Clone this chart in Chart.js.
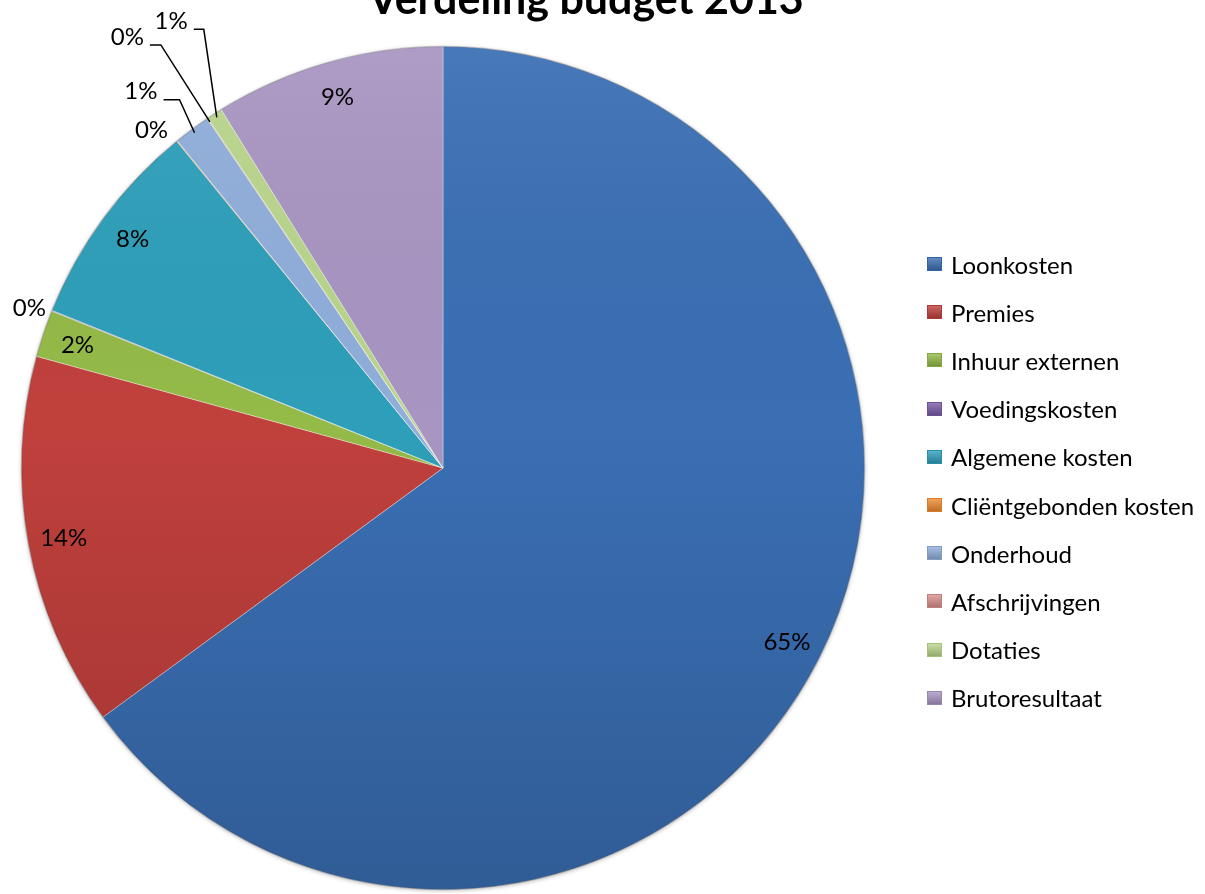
<!DOCTYPE html>
<html>
<head>
<meta charset="utf-8">
<script src="https://cdn.jsdelivr.net/npm/chart.js@4.4.0/dist/chart.umd.min.js"></script>
<style>
  body { margin: 0; background: #fff; overflow: hidden; }
  #wrap { position: relative; width: 1205px; height: 894px; }
  #legend { position: absolute; left: 927px; top: 240px; font-family: Lato, sans-serif; font-size: 24px; color: #000; }
  .item { height: 48.2px; display: flex; align-items: center; white-space: nowrap; }
  .sw { width: 15px; height: 14px; margin-right: 9px; box-sizing: border-box; }
</style>
</head>
<body>
<div id="wrap">
  <canvas id="pie" width="1205" height="894"></canvas>
  <div id="legend"></div>
</div>
<script>
// data
const categories = ["Loonkosten", "Premies", "Inhuur externen", "Voedingskosten", "Algemene kosten",
  "Cliëntgebonden kosten", "Onderhoud", "Afschrijvingen", "Dotaties", "Brutoresultaat"];
const budgetShare = [64.8, 14.3, 1.8, 0.03, 8.0, 0.03, 1.4, 0.03, 0.6, 8.8];
const sliceColors = ["#3A6FB4", "#C0403C", "#94BA48", "#7A5AA5", "#2E9FBA",
  "#F08A2E", "#8FAEDA", "#D98F8C", "#B9D58C", "#A895C2"];
const chartTitle = "Verdeling budget 2013";

function shade(hex, amt) {
  let r = parseInt(hex.slice(1, 3), 16), g = parseInt(hex.slice(3, 5), 16), b = parseInt(hex.slice(5, 7), 16);
  const f = c => Math.round(amt >= 0 ? c + (255 - c) * amt : c * (1 + amt));
  return "rgb(" + f(r) + "," + f(g) + "," + f(b) + ")";
}

// small slices get their label outside, some with a leader line
const outside = {
  3: { dx: -6, dy: -2 },
  5: { dx: -9, dy: -11 },
  6: { ex: -15, ey: -33, h: 16 },
  7: { ex: -49, ey: -77, h: 11 },
  8: { ex: -13, ey: -88, h: 10 }
};

const pieExtras = {
  id: "pieExtras",
  beforeDatasetsDraw(chart) {
    // soft shadow under the pie
    const a0 = chart.getDatasetMeta(0).data[0];
    const ctx = chart.ctx;
    ctx.save();
    ctx.shadowColor = "rgba(0,0,0,0.45)";
    ctx.shadowBlur = 5;
    ctx.shadowOffsetY = 1;
    ctx.fillStyle = "#fff";
    ctx.beginPath();
    ctx.arc(a0.x, a0.y, a0.outerRadius - 1, 0, Math.PI * 2);
    ctx.fill();
    ctx.restore();
  },
  afterDatasetsDraw(chart) {
    const ctx = chart.ctx;
    const arcs = chart.getDatasetMeta(0).data;
    const total = budgetShare.reduce((a, b) => a + b, 0);
    const a0 = arcs[0];
    // top-to-bottom shading
    ctx.save();
    const lg = ctx.createLinearGradient(0, a0.y - a0.outerRadius, 0, a0.y + a0.outerRadius);
    lg.addColorStop(0, "rgba(255,255,255,0.07)");
    lg.addColorStop(0.45, "rgba(0,0,0,0)");
    lg.addColorStop(1, "rgba(0,0,0,0.17)");
    ctx.fillStyle = lg;
    ctx.beginPath();
    ctx.arc(a0.x, a0.y, a0.outerRadius, 0, Math.PI * 2);
    ctx.fill();
    ctx.strokeStyle = "rgba(0,0,0,0.18)";
    ctx.lineWidth = 1.5;
    ctx.stroke();
    ctx.restore();

    ctx.save();
    ctx.font = "24px Lato, sans-serif";
    ctx.fillStyle = "#000";
    ctx.strokeStyle = "#000";
    ctx.lineWidth = 1.5;
    ctx.textBaseline = "middle";
    arcs.forEach((arc, i) => {
      const pct = Math.round(budgetShare[i] / total * 100) + "%";
      const mid = (arc.startAngle + arc.endAngle) / 2;
      const o = outside[i];
      if (!o) {
        const r = arc.outerRadius * 0.915;
        ctx.textAlign = "center";
        ctx.fillText(pct, arc.x + r * Math.cos(mid), arc.y + r * Math.sin(mid));
        return;
      }
      ctx.textAlign = "right";
      if (o.ex === undefined) {
        const ax = arc.x + arc.outerRadius * Math.cos(mid), ay = arc.y + arc.outerRadius * Math.sin(mid);
        ctx.fillText(pct, ax + o.dx, ay + o.dy);
        return;
      }
      const r = arc.outerRadius * 0.99;
      const ax = arc.x + r * Math.cos(mid), ay = arc.y + r * Math.sin(mid);
      const bx = ax + o.ex, by = ay + o.ey;
      ctx.beginPath();
      ctx.moveTo(ax, ay);
      ctx.lineTo(bx, by);
      ctx.lineTo(bx - o.h, by);
      ctx.stroke();
      ctx.fillText(pct, bx - o.h - 6, by - 8);
    });

    // title, partly cut off by the top edge as in the original
    ctx.font = "bold 43px Lato, sans-serif";
    ctx.textAlign = "center";
    ctx.textBaseline = "alphabetic";
    ctx.fillText(chartTitle, 586, 14);
    ctx.restore();
  }
};

new Chart(document.getElementById("pie"), {
  type: "pie",
  data: {
    labels: categories,
    datasets: [{
      data: budgetShare,
      backgroundColor: sliceColors,
      borderColor: "rgba(255,255,255,0.35)",
      borderWidth: 1
    }]
  },
  options: {
    responsive: false,
    animation: false,
    layout: { padding: { left: 21, top: 46, right: 340, bottom: 4 } },
    plugins: {
      legend: { display: false },
      title: { display: false },
      tooltip: { enabled: false }
    }
  },
  plugins: [pieExtras]
});

// legend on the right
const legend = document.getElementById("legend");
categories.forEach((name, i) => {
  const row = document.createElement("div");
  row.className = "item";
  const sw = document.createElement("span");
  sw.className = "sw";
  sw.style.background = "linear-gradient(" + shade(sliceColors[i], 0.2) + "," + shade(sliceColors[i], -0.2) + ")";
  sw.style.border = "1px solid " + shade(sliceColors[i], -0.1);
  row.appendChild(sw);
  row.appendChild(document.createTextNode(name));
  legend.appendChild(row);
});
</script>
</body>
</html>
